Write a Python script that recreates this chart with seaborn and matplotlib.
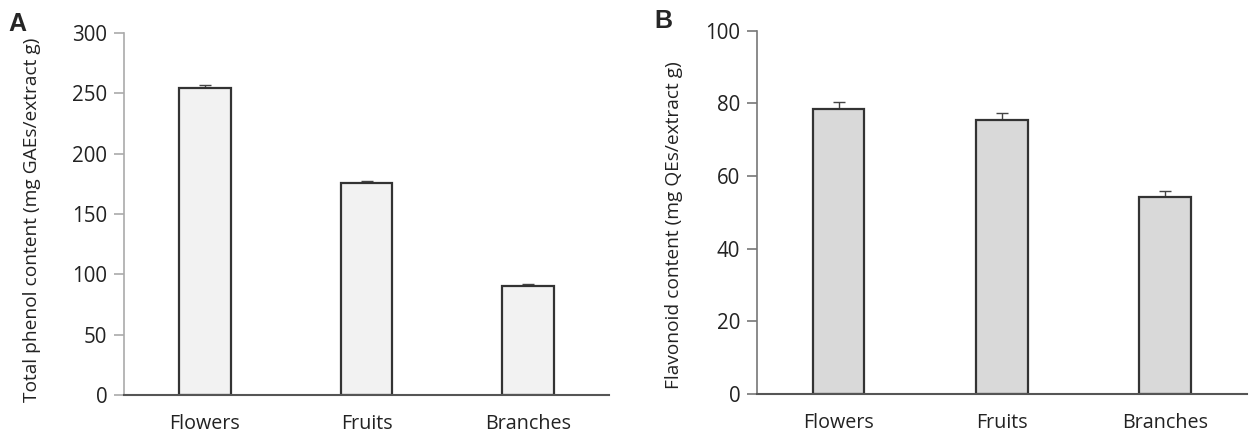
import matplotlib
matplotlib.use("Agg")
import matplotlib.pyplot as plt
import seaborn as sns
import numpy as np
import pandas as pd

categories = ["Flowers", "Fruits", "Branches"]
phenol_values = [254.2, 175.7, 90.3]
phenol_err = [2.8, 1.8, 1.5]
flavonoid_values = [78.4, 75.4, 54.2]
flavonoid_err = [2.1, 1.9, 1.6]
phenol_ticks = [0, 50, 100, 150, 200, 250, 300]
flavonoid_ticks = [0, 20, 40, 60, 80, 100]

sns.set_theme(style="white")
plt.rcParams['font.family'] = ['Open Sans', 'DejaVu Sans']

fig = plt.figure(figsize=(12.49, 4.36), dpi=100)
axA = fig.add_axes([0.0993, 0.0940, 0.3883, 0.8303])
axB = fig.add_axes([0.6061, 0.0963, 0.3921, 0.8333])

def panel(ax, vals, errs, color, ylabel, ticks, width, spine_left, lab_xy):
    df = pd.DataFrame({"cat": categories, "val": vals})
    sns.barplot(data=df, x="cat", y="val", color=color, edgecolor="#333333",
                linewidth=1.6, width=width, errorbar=None, ax=ax, saturation=1)
    ax.errorbar(x=np.arange(len(categories)), y=vals,
                yerr=[np.zeros(len(vals)), errs], fmt="none",
                ecolor="#444444", elinewidth=1.0, capsize=4, capthick=1.0, zorder=0.5)
    ax.set_xlim(-0.5, 2.5)
    ax.set_ylim(ticks[0], ticks[-1])
    ax.set_yticks(ticks)
    ax.set_xlabel("")
    ax.set_ylabel(ylabel, fontsize=13.8, color="#222222")
    ax.yaxis.set_label_coords(*lab_xy)
    for s in ["top", "right"]:
        ax.spines[s].set_visible(False)
    ax.spines["left"].set_color(spine_left)
    ax.spines["left"].set_linewidth(1.2)
    ax.spines["bottom"].set_color("#555555")
    ax.spines["bottom"].set_linewidth(1.5)
    ax.tick_params(axis="y", which="both", left=True, length=7, width=1.2,
                   color=spine_left, labelsize=14.8, pad=5, labelcolor="#222222")
    ax.tick_params(axis="x", bottom=False, length=0, labelsize=14.2, pad=14,
                   labelcolor="#222222")
    ax.set_facecolor("white")

panel(axA, phenol_values, phenol_err, "#f2f2f2",
      "Total phenol content (mg GAEs/extract g)", phenol_ticks, 0.32, "#aaaaaa",
      (-0.171, 0.485))
panel(axB, flavonoid_values, flavonoid_err, "#d9d9d9",
      "Flavonoid content (mg QEs/extract g)", flavonoid_ticks, 0.315, "#777777",
      (-0.151, 0.465))

fig.text(8/1249, 1-31/436, "A", fontsize=18, fontweight="bold",
         family=["Liberation Sans", "DejaVu Sans"], ha="left", va="baseline")
fig.text(654/1249, 1-28/436, "B", fontsize=18, fontweight="bold",
         family=["Liberation Sans", "DejaVu Sans"], ha="left", va="baseline")

fig.savefig("out.png", dpi=100, facecolor="white")
